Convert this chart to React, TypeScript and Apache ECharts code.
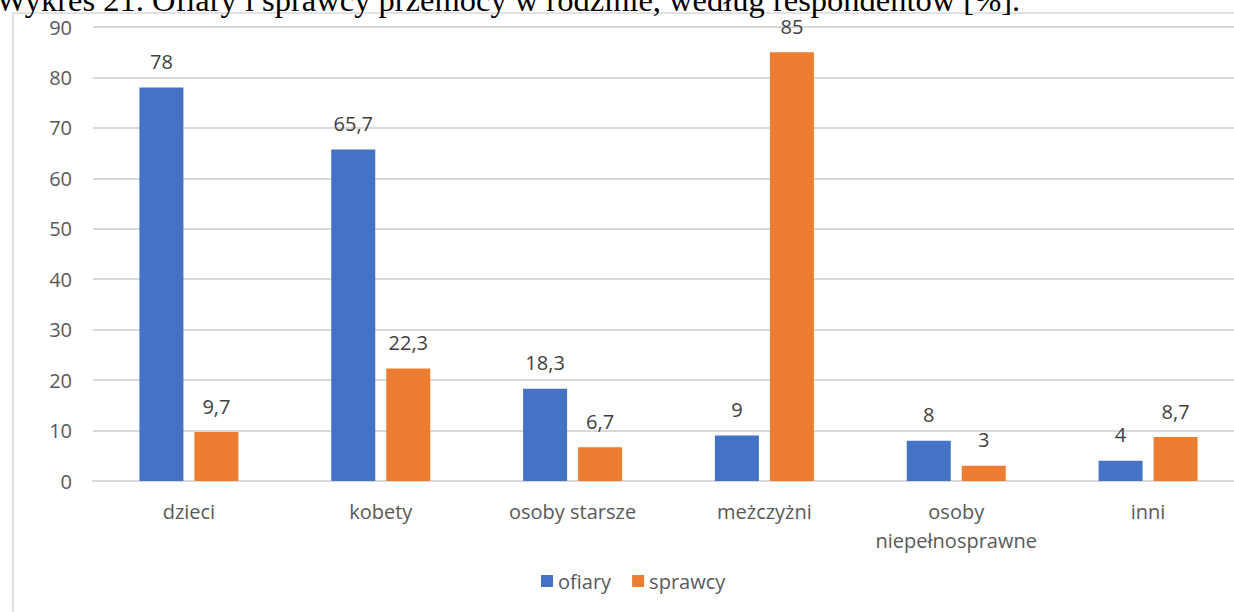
import React, { useEffect, useRef } from "react";
import * as echarts from "echarts";

const title = "Wykres 21. Ofiary i sprawcy przemocy w rodzinie, według respondentów [%].";
const categories = ["dzieci", "kobety", "osoby starsze", "meżczyżni", "osoby\nniepełnosprawne", "inni"];
const ofiary = [78, 65.7, 18.3, 9, 8, 4];
const sprawcy = [9.7, 22.3, 6.7, 85, 3, 8.7];
const yTicks = { min: 0, max: 90, interval: 10 };

const FONT = "'Open Sans', 'Noto Sans', sans-serif";

export default function App() {
  const ref = useRef<HTMLDivElement>(null);
  useEffect(() => {
    if (!ref.current) return;
    const chart = echarts.init(ref.current, undefined, { renderer: "svg" });
    const fmt = (p: any) => String(p.value).replace(".", ",");
    const labelStyle = {
      show: true,
      position: "top",
      distance: 16,
      fontSize: 20,
      color: "#404040",
      formatter: fmt,
      fontFamily: FONT,
    };
    chart.setOption({
      animation: false,
      backgroundColor: "#fff",
      textStyle: { fontFamily: FONT },
      graphic: [
        {
          type: "rect",
          shape: { x: 13, y: 13, width: 1300, height: 700 },
          style: { fill: "none", stroke: "#d9d9d9", lineWidth: 1.5 },
          silent: true,
          z: -10,
        },
        {
          type: "text",
          x: -4,
          y: -17,
          style: {
            text: title,
            font: "32.5px 'Liberation Serif', 'Times New Roman', serif",
            fill: "#000",
          },
        },
      ],
      grid: { left: 93, right: 6, top: 27, bottom: 131, containLabel: false },
      legend: {
        top: 566,
        left: 536,
        icon: "rect",
        itemWidth: 12,
        itemHeight: 12,
        itemGap: 21,
        textStyle: { fontSize: 20, color: "#595959", fontFamily: FONT },
        data: ["ofiary", "sprawcy"],
      },
      xAxis: {
        type: "category",
        data: categories,
        axisTick: { show: false },
        axisLine: { lineStyle: { color: "#d9d9d9", width: 2 } },
        axisLabel: {
          fontSize: 20,
          color: "#595959",
          margin: 16,
          lineHeight: 29,
          interval: 0,
          fontFamily: FONT,
        },
      },
      yAxis: {
        type: "value",
        min: yTicks.min,
        max: yTicks.max,
        interval: yTicks.interval,
        axisLine: { show: false },
        axisTick: { show: false },
        axisLabel: { fontSize: 20, color: "#595959", margin: 21, fontFamily: FONT },
        splitLine: { lineStyle: { color: "#d9d9d9", width: 2 } },
      },
      series: [
        {
          name: "ofiary",
          type: "bar",
          data: ofiary,
          barWidth: 44,
          barGap: "25%",
          itemStyle: { color: "#4472C4" },
          label: labelStyle,
        },
        {
          name: "sprawcy",
          type: "bar",
          data: sprawcy,
          barWidth: 44,
          itemStyle: { color: "#ED7D31" },
          label: labelStyle,
        },
      ],
    });
    return () => chart.dispose();
  }, []);
  return (
    <div
      style={{
        position: "fixed",
        left: 0,
        top: 0,
        width: 1234,
        height: 612,
        overflow: "hidden",
        background: "#fff",
      }}
    >
      <div ref={ref} style={{ width: 1250, height: 612 }} />
    </div>
  );
}
